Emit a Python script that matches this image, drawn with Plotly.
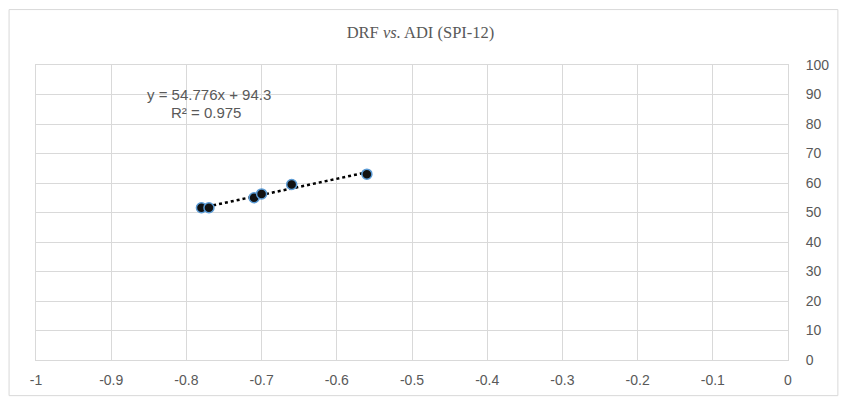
import plotly.graph_objects as go

# Drought-related frequency against ADI for SPI-12
adi = [-0.78, -0.77, -0.71, -0.70, -0.66, -0.56]
drf = [51.6, 51.6, 55.0, 56.3, 59.5, 63.0]

# Linear trendline coefficients
slope = 54.776
intercept = 94.3
r_squared = 0.975

x_ticks = [-1, -0.9, -0.8, -0.7, -0.6, -0.5, -0.4, -0.3, -0.2, -0.1, 0]
y_ticks = [0, 10, 20, 30, 40, 50, 60, 70, 80, 90, 100]

grid = "#d9d9d9"
text_grey = "#595959"

x_lo, x_hi = min(adi), max(adi)
trend_x = [x_lo, x_hi]
trend_y = [slope * v + intercept for v in trend_x]

fig = go.Figure()
fig.add_trace(go.Scatter(
    x=trend_x, y=trend_y, mode="lines",
    line=dict(color="black", width=2.5, dash="dot"),
    hoverinfo="skip", showlegend=False,
))
fig.add_trace(go.Scatter(
    x=adi, y=drf, mode="markers",
    marker=dict(size=10, color="#111111", line=dict(color="#5b9bd5", width=1.5)),
    showlegend=False,
))

fig.update_layout(
    width=841, height=400,
    margin=dict(l=36, r=51, t=65, b=37),
    paper_bgcolor="white", plot_bgcolor="white",
    title=dict(
        text="DRF <i>vs.</i> ADI (SPI-12)",
        x=0.5, xref="container", xanchor="center",
        y=1 - 32 / 400, yref="container", yanchor="middle",
        font=dict(family="Liberation Serif", size=16.5, color=text_grey),
    ),
    font=dict(family="Liberation Sans", size=14, color=text_grey),
)
fig.update_xaxes(
    range=[-1, 0], tickvals=x_ticks, ticktext=[f"{v:g}" for v in x_ticks],
    showgrid=True, gridcolor=grid, gridwidth=1,
    showline=True, linecolor=grid, linewidth=1, mirror=True,
    zeroline=False, ticks="", ticklabelstandoff=7,
    tickfont=dict(family="Liberation Sans", size=14, color=text_grey),
)
fig.update_yaxes(
    range=[0, 100], tickvals=y_ticks, side="right",
    showgrid=True, gridcolor=grid, gridwidth=1,
    showline=True, linecolor=grid, linewidth=1, mirror=True,
    zeroline=False, ticks="", ticklabelstandoff=14,
    tickfont=dict(family="Liberation Sans", size=14, color=text_grey),
)

# Trendline equation and fit quality
eq_font = dict(family="Liberation Sans", size=15, color=text_grey)
fig.add_annotation(
    x=-0.7706, y=89.9, xref="x", yref="y",
    text=f"y = {slope}x + {intercept}",
    showarrow=False, font=eq_font,
)
fig.add_annotation(
    x=-0.7745, y=83.9, xref="x", yref="y",
    text=f"R² = {r_squared}",
    showarrow=False, font=eq_font,
)

# Chart area frame
fig.add_shape(
    type="rect", xref="paper", yref="paper",
    x0=(9 - 36) / 754, x1=(840 - 36) / 754,
    y0=(363 - 399) / 298, y1=(363 - 9) / 298,
    line=dict(color=grid, width=1), fillcolor="rgba(0,0,0,0)", layer="below",
)

fig.write_html("out.html")
